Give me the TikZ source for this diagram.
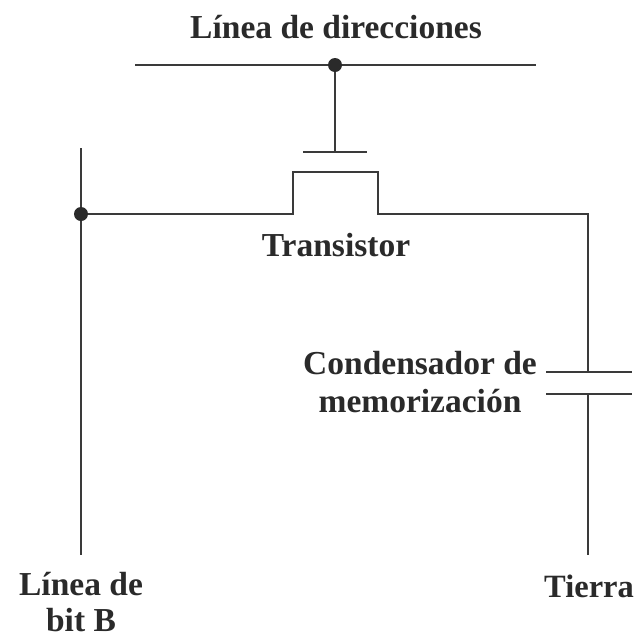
\documentclass[tikz,border=0pt]{standalone}
\usepackage{fontspec}
\setmainfont{Liberation Serif}
\definecolor{ink}{HTML}{2A2A2A}
\definecolor{wirec}{HTML}{3A3A3A}
\tikzset{
  wire/.style={draw=wirec,line width=2.4pt},
  lbl/.style={text=ink,font=\fontsize{33.5}{38}\selectfont\bfseries,align=center,inner sep=0pt},
  dot/.style={circle,fill=ink,inner sep=0pt,minimum size=14pt}
}
\begin{document}
\begin{tikzpicture}[x=1pt,y=-1pt]
\useasboundingbox (0,0) rectangle (633,638);
\fill[white] (0,0) rectangle (633,638);
\node[lbl,anchor=base] (title) at (336,38) {Línea de direcciones};
\coordinate (al) at (135,65);
\coordinate (ar) at (536,65);
\coordinate (gt) at (335,152);
\coordinate (gl) at (303,152);
\coordinate (gr) at (367,152);
\draw[wire] (al) -- (ar);
\node[dot] (d1) at (335,65) {};
\draw[wire] (d1) -- (gt);
\draw[wire] (gl) -- (gr);
\coordinate (bt) at (81,148);
\coordinate (bb) at (81,555);
\draw[wire] (bt) -- (bb);
\node[dot] (d2) at (81,214) {};
\coordinate (s1) at (293,214);
\coordinate (s2) at (293,172);
\coordinate (s3) at (378,172);
\coordinate (s4) at (378,214);
\coordinate (c0) at (588,214);
\coordinate (c1) at (588,372);
\coordinate (c2) at (588,394);
\coordinate (c3) at (588,555);
\draw[wire] (d2) -- (s1) -- (s2) -- (s3) -- (s4) -- (c0) -- (c1);
\draw[wire] (c2) -- (c3);
\coordinate (p1l) at (546,372);
\coordinate (p1r) at (632,372);
\coordinate (p2l) at (546,394);
\coordinate (p2r) at (632,394);
\draw[wire] (p1l) -- (p1r);
\draw[wire] (p2l) -- (p2r);
\node[lbl,anchor=base] (tr) at (336,256) {Transistor};
\node[lbl] (cap) at (420,382) {Condensador de\\memorización};
\node[lbl,font=\fontsize{33.5}{36}\selectfont\bfseries] (bit) at (81,602.5) {Línea de\\bit B};
\node[lbl,anchor=base west,font=\fontsize{32.5}{38}\selectfont\bfseries] (gnd) at (544,597) {Tierra};
\end{tikzpicture}
\end{document}
